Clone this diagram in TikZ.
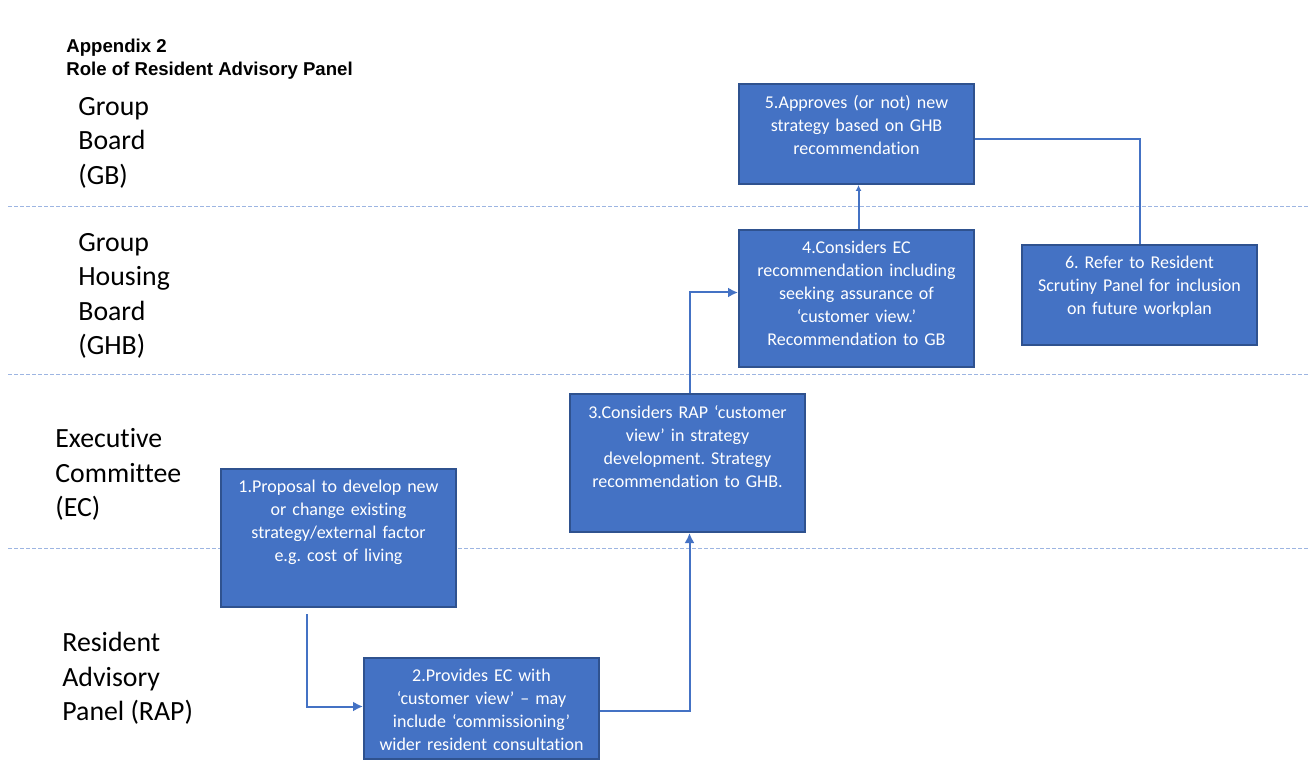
\documentclass[tikz,border=0pt]{standalone}
\usepackage{fontspec}
\setmainfont{Carlito}[Ligatures=CommonOff]
\newfontfamily\titlefont{Liberation Sans}
\usetikzlibrary{arrows.meta}
\definecolor{boxfill}{HTML}{4472C4}
\definecolor{boxline}{HTML}{2F528F}
\definecolor{laneline}{HTML}{9DB5E2}
\frenchspacing
\begin{document}
\begin{tikzpicture}[x=0.5pt, y=-0.5pt,
    box/.style={draw=boxline, fill=boxfill, line width=1pt, minimum width=117.5pt, inner sep=0pt, anchor=north west},
    boxtext/.style={text=white, align=center, text width=116pt, inner sep=0pt, anchor=north, font=\fontsize{9}{11.5}\selectfont},
    lane/.style={align=left, inner sep=0pt, anchor=north west, font=\fontsize{13.9}{17.25}\selectfont},
    conn/.style={draw=boxfill, line width=1pt},
    arr/.style={conn, -{Latex[length=5pt, width=5pt]}}]
    \useasboundingbox (0,0) rectangle (1310,774);

    % Title
    \node[anchor=north west, inner sep=0pt, align=left, font=\titlefont\bfseries\fontsize{9.3}{11.5}\selectfont] (title) at (66,39) {Appendix 2\\Role of Resident Advisory Panel};

    % Lane separators
    \foreach \y in {207,375,548}
        \draw[laneline, line width=0.5pt, dash pattern=on 2pt off 1pt] (8,\y) -- (1310,\y);

    % Lane labels
    \node[lane] (gb) at (78,97) {Group\\Board\\(GB)};
    \node[lane] (ghb) at (78,233) {Group\\Housing\\Board\\(GHB)};
    \node[lane] (ec) at (55,428) {Executive\\Committee\\(EC)};
    \node[lane] (rap) at (62,632) {Resident\\Advisory\\Panel (RAP)};

    % Boxes
    \node[box, minimum height=50pt] (b5) at (738,83) {};
    \node[boxtext] (t5) at ([yshift=-6pt]b5.north) {5.Approves (or not) new\\strategy based on GHB\\recommendation};

    \node[box, minimum height=68.5pt] (b4) at (738,229) {};
    \node[boxtext] (t4) at ([yshift=-6pt]b4.north) {4.Considers EC\\recommendation including\\seeking assurance of\\‘customer view.’\\Recommendation to GB};

    \node[box, minimum height=50pt] (b6) at (1021,244) {};
    \node[boxtext] (t6) at ([yshift=-6pt]b6.north) {6. Refer to Resident\\Scrutiny Panel for inclusion\\on future workplan};

    \node[box, minimum height=69pt] (b3) at (569,393) {};
    \node[boxtext] (t3) at ([yshift=-6pt]b3.north) {3.Considers RAP ‘customer\\view’ in strategy\\development. Strategy\\recommendation to GHB.};

    \node[box, minimum height=69pt] (b1) at (220,468) {};
    \node[boxtext] (t1) at ([yshift=-6pt]b1.north) {1.Proposal to develop new\\or change existing\\strategy/external factor\\e.g. cost of living};

    \node[box, minimum height=50.5pt] (b2) at (363,657) {};
    \node[boxtext] (t2) at ([yshift=-6pt]b2.north) {2.Provides EC with\\‘customer view’ – may\\include ‘commissioning’\\wider resident consultation};

    % Connectors
    \draw[arr] ([xshift=-16pt,yshift=-3pt]b1.south) |- ([yshift=1pt]b2.west);
    \draw[arr] ([yshift=-1pt]b2.east) -| ([xshift=1pt]b3.south);
    \draw[arr] ([xshift=1pt]b3.north) |- ([yshift=3pt]b4.west);
    \draw[conn, -{Latex[length=3pt, width=3pt]}] ([xshift=1pt]b4.north) -- ([xshift=1pt]b4.north |- b5.south);
    \draw[conn] ([yshift=-2.5pt]b5.east) -| (b6.north);
\end{tikzpicture}
\end{document}
